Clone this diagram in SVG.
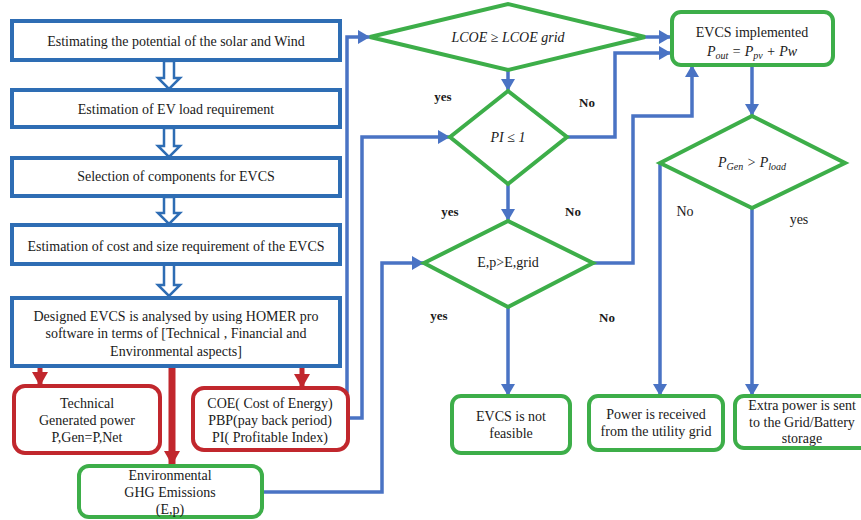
<svg xmlns="http://www.w3.org/2000/svg" width="861" height="520" viewBox="0 0 861 520" font-family="'Liberation Serif', 'Times New Roman', 'DejaVu Serif', serif">
<defs>
<style>
text{font-family:'Liberation Serif','Times New Roman','DejaVu Serif',serif;font-size:14px;fill:#1a1a1a;text-anchor:middle}
.bb{fill:#fff;stroke:#2E6DB4;stroke-width:4}
.rb{fill:#fff;stroke:#C1272D;stroke-width:4}
.gb{fill:#fff;stroke:#3DAE49;stroke-width:4}
.gd{fill:#fff;stroke:#3DAE49;stroke-width:4;stroke-linejoin:miter}
.hc{fill:#fff;stroke:#2E6DB4;stroke-width:2.5}
.c{fill:none;stroke:#4A73C4;stroke-width:3.5}
.r{fill:none;stroke:#C1272D}
.lbl{font-weight:bold;font-size:13px}
.it{font-style:italic}
</style>
<marker id="ab" markerUnits="userSpaceOnUse" markerWidth="14" markerHeight="14" refX="12" refY="7" orient="auto">
<path d="M0,0 L12,7 L0,14 z" fill="#4A73C4"/>
</marker>
<marker id="ar" markerUnits="userSpaceOnUse" markerWidth="18" markerHeight="16" refX="14" refY="8" orient="auto">
<path d="M0,0 L14,8 L0,16 z" fill="#C1272D"/>
</marker>
</defs>
<rect width="861" height="520" fill="#fff"/>

<g id="connectors">
<polygon class="hc" points="164,61 174,61 174,78 180,78 169,89 158,78 164,78"/>
<polygon class="hc" points="164,128 174,128 174,146 180,146 169,157 158,146 164,146"/>
<polygon class="hc" points="164,197 174,197 174,213 180,213 169,224 158,213 164,213"/>
<polygon class="hc" points="164,264 174,264 174,285 180,285 169,296 158,285 164,285"/>
<line class="r" x1="40" y1="368" x2="40" y2="386" stroke-width="5" marker-end="url(#ar)"/>
<line class="r" x1="172" y1="368" x2="172" y2="465" stroke-width="7" marker-end="url(#ar)"/>
<line class="r" x1="302" y1="368" x2="302" y2="388" stroke-width="5" marker-end="url(#ar)"/>
<polyline class="c" points="347,393 347,37 370,37" marker-end="url(#ab)"/>
<polyline class="c" points="348,418 362,418 362,137 450,137" marker-end="url(#ab)"/>
<polyline class="c" points="262,492 382,492 382,263 424,263" marker-end="url(#ab)"/>
<polyline class="c" points="508,70 508,91" marker-end="url(#ab)"/>
<polyline class="c" points="643,37 671,37" marker-end="url(#ab)"/>
<polyline class="c" points="567,137 615,137 615,53 671,53" marker-end="url(#ab)"/>
<polyline class="c" points="508,184 508,221" marker-end="url(#ab)"/>
<polyline class="c" points="593,263 633,263 633,116 692,116 692,65" marker-end="url(#ab)"/>
<polyline class="c" points="508,307 508,396" marker-end="url(#ab)"/>
<polyline class="c" points="752,65 752,116" marker-end="url(#ab)"/>
<polyline class="c" points="660,163 660,396" marker-end="url(#ab)"/>
<polyline class="c" points="752,208 752,396" marker-end="url(#ab)"/>
</g>

<g id="step1"><rect class="bb" x="12" y="21" width="328" height="39"/><text x="176" y="46">Estimating  the potential  of the solar and Wind</text></g>
<g id="step2"><rect class="bb" x="12" y="90" width="328" height="37"/><text x="176" y="114">Estimation  of EV load requirement</text></g>
<g id="step3"><rect class="bb" x="12" y="158" width="328" height="38"/><text x="176" y="181">Selection of components  for EVCS</text></g>
<g id="step4"><rect class="bb" x="12" y="225" width="328" height="39"/><text x="176" y="251">Estimation of cost and size requirement of the EVCS</text></g>
<g id="step5"><rect class="bb" x="12" y="298" width="328" height="68"/>
<text x="176" y="321">Designed EVCS is analysed by using HOMER pro</text>
<text x="176" y="338">software in terms of [Technical  , Financial  and</text>
<text x="176" y="356">Environmental  aspects]</text></g>

<g id="technical"><rect class="rb" x="14" y="386" width="146" height="67" rx="11"/>
<text x="87" y="408">Technical</text><text x="87" y="425">Generated power</text><text x="87" y="442">P,Gen=P,Net</text></g>
<g id="financial"><rect class="rb" x="193" y="388" width="155" height="62" rx="11"/>
<text x="270" y="408">COE( Cost of Energy)</text><text x="270" y="425">PBP(pay back period)</text><text x="270" y="442">PI( Profitable Index)</text></g>
<g id="environmental"><rect class="gb" x="79" y="466" width="183" height="51" rx="10"/>
<text x="170" y="480">Environmental</text><text x="170" y="497">GHG Emissions</text><text x="170" y="514">(E,p)</text></g>

<g id="lcoe"><polygon class="gd" points="370,37 508,4 645,37 508,70"/><text class="it" x="508" y="42">LCOE ≥ LCOE grid</text></g>
<g id="pi"><polygon class="gd" points="450,137 508,91 567,137 508,184"/><text class="it" x="508" y="142">PI ≤ 1</text></g>
<g id="ep"><polygon class="gd" points="424,263 508,221 593,263 508,307"/><text x="508" y="267" font-size="13">E,p&gt;E,grid</text></g>
<g id="implemented"><rect class="gb" x="672" y="12" width="161" height="53" rx="9"/>
<text x="752" y="37">EVCS implemented</text>
<text x="752" y="56" class="it">P<tspan font-size="10" dy="3">out</tspan><tspan dy="-3"> = P</tspan><tspan font-size="10" dy="3">pv</tspan><tspan dy="-3"> + Pw</tspan></text></g>
<g id="pgen"><polygon class="gd" points="660,163 752,116 845,163 752,208"/>
<text x="752" y="167" class="it">P<tspan font-size="10" dy="3">Gen</tspan><tspan dy="-3"> &gt; P</tspan><tspan font-size="10" dy="3">load</tspan></text></g>
<g id="notfeasible"><rect class="gb" x="452" y="396" width="118" height="57" rx="9"/>
<text x="511" y="421">EVCS is not</text><text x="511" y="438">feasible</text></g>
<g id="utility"><rect class="gb" x="589" y="396" width="134" height="54" rx="9"/>
<text x="656" y="419">Power is received</text><text x="656" y="436">from the utility grid</text></g>
<g id="extra"><rect class="gb" x="735" y="396" width="140" height="52" rx="9"/>
<text x="802" y="410">Extra power is sent</text><text x="802" y="427">to the Grid/Battery</text><text x="802" y="443">storage</text></g>

<g id="labels">
<text class="lbl" x="443" y="101">yes</text>
<text class="lbl" x="587" y="107">No</text>
<text class="lbl" x="450" y="216">yes</text>
<text class="lbl" x="573" y="216">No</text>
<text class="lbl" x="439" y="320">yes</text>
<text class="lbl" x="607" y="322">No</text>
<text x="685" y="216" font-size="13">No</text>
<text x="799" y="224" font-size="13">yes</text>
</g>
</svg>
